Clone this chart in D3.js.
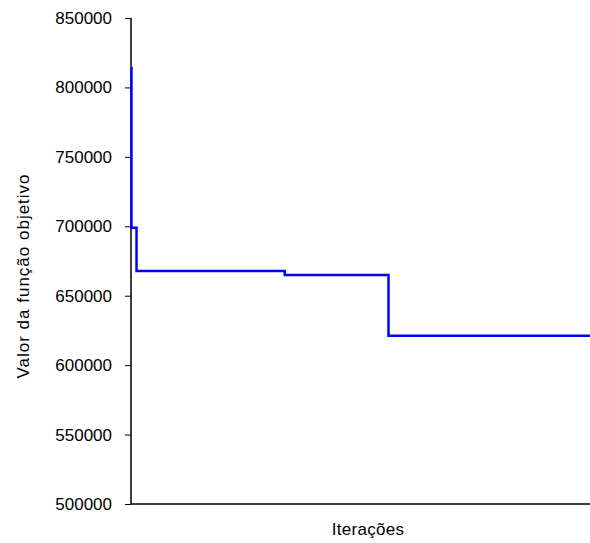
<!DOCTYPE html>
<html><head><meta charset="utf-8">
<script src="https://cdn.jsdelivr.net/npm/d3@7"></script>
<style>body{margin:0;background:#fff}svg{display:block}</style>
</head><body>
<script>
const iterations = [0, 1, 12, 335, 561, 1000];
const values = [814000, 699000, 667800, 664900, 621200, 621200];
const yTicks = [500000, 550000, 600000, 650000, 700000, 750000, 800000, 850000];
const xLabel = "Iterações";
const yLabel = "Valor da função objetivo";

const W = 590, H = 543;
const svg = d3.select("body").append("svg").attr("width", W).attr("height", H);
const x = d3.scaleLinear().domain([0, 1000]).range([131, 590]);
const y = d3.scaleLinear().domain([500000, 850000]).range([504, 18]);

const font = "Liberation Sans, Arial, sans-serif";

const yAxis = svg.append("g").attr("transform", "translate(131,0)")
  .call(d3.axisLeft(y).tickValues(yTicks).tickFormat(d3.format("d")).tickSize(6).tickPadding(13));
yAxis.select(".domain").attr("stroke", "#000").attr("stroke-width", 1.5).attr("d", "M0,18V504");
yAxis.selectAll(".tick line").attr("stroke", "#000");
yAxis.selectAll("text").attr("font-family", font).attr("font-size", 17).attr("fill", "#000");

svg.append("line").attr("x1", 131).attr("x2", 590).attr("y1", 504).attr("y2", 504)
  .attr("stroke", "#000").attr("stroke-width", 1.5);

const pts = iterations.map((d, i) => [d, values[i]]);
svg.append("path").datum(pts)
  .attr("fill", "none").attr("stroke", "#0000ff").attr("stroke-width", 2.5)
  .attr("d", d3.line().x(d => x(d[0])).y(d => y(d[1])).curve(d3.curveStepAfter));

svg.append("text").attr("x", 368).attr("y", 535).attr("text-anchor", "middle")
  .attr("font-family", font).attr("font-size", 17).attr("letter-spacing", 0.3).text(xLabel);
svg.append("text").attr("transform", "translate(29,276) rotate(-90)").attr("text-anchor", "middle")
  .attr("font-family", font).attr("font-size", 17).attr("letter-spacing", 1).text(yLabel);
</script>
</body></html>
